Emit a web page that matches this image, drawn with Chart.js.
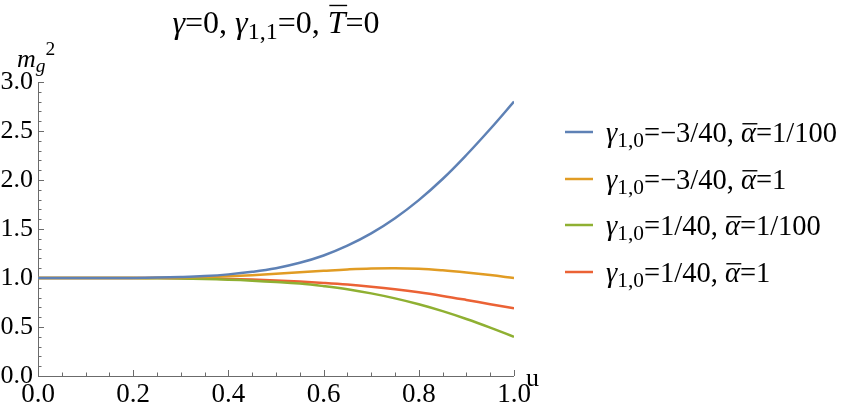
<!DOCTYPE html>
<html>
<head>
<meta charset="utf-8">
<title>m_g^2 vs u</title>
<script src="https://cdn.jsdelivr.net/npm/chart.js@4.4.1/dist/chart.umd.min.js"></script>
<style>
  html,body{margin:0;padding:0;background:#fff}
  #wrap{width:853px;height:415px;position:relative}
</style>
</head>
<body>
<div id="wrap"><canvas id="chart"></canvas></div>
<script>
// sample points along u
const uValues = [0,0.05,0.1,0.15,0.2,0.25,0.3,0.35,0.4,0.45,0.5,0.55,0.6,0.65,0.7,0.75,0.8,0.85,0.9,0.95,1.0];

const blueSeries   = [1,1,1,1,1.001,1.004,1.01,1.02,1.037,1.063,1.1,1.155,1.23,1.33,1.455,1.61,1.795,2.01,2.255,2.52,2.80];
const orangeSeries = [1,1,1,1,1,1.002,1.005,1.01,1.018,1.029,1.043,1.058,1.073,1.087,1.097,1.1,1.094,1.078,1.056,1.03,1.0];
const greenSeries  = [1,1,1,1,0.999,0.998,0.995,0.99,0.983,0.973,0.96,0.943,0.917,0.885,0.843,0.792,0.732,0.662,0.582,0.494,0.40];
const redSeries    = [1,1,1,1,1,0.999,0.997,0.994,0.99,0.984,0.975,0.964,0.95,0.933,0.911,0.885,0.854,0.817,0.776,0.733,0.69];

const xTicks = [0,0.2,0.4,0.6,0.8,1.0];
const yTicks = [0,0.5,1.0,1.5,2.0,2.5,3.0];

// rich text pieces: it = italic, sub/sup = small script, bar = overline
const titleText = [{t:'γ',it:1},{t:'=0, '},{t:'γ',it:1},{t:'1,1',sub:1},{t:'=0, '},{t:'T',it:1,bar:'cap'},{t:'=0'}];
const seriesNames = [
  [{t:'γ',it:1},{t:'1,0',sub:1},{t:'=−3/40, '},{t:'α',it:1,bar:'low'},{t:'=1/100'}],
  [{t:'γ',it:1},{t:'1,0',sub:1},{t:'=−3/40, '},{t:'α',it:1,bar:'low'},{t:'=1'}],
  [{t:'γ',it:1},{t:'1,0',sub:1},{t:'=1/40, '},{t:'α',it:1,bar:'low'},{t:'=1/100'}],
  [{t:'γ',it:1},{t:'1,0',sub:1},{t:'=1/40, '},{t:'α',it:1,bar:'low'},{t:'=1'}]
];
const yAxisLabel = [{t:'m',it:1},{t:'g',it:1,sub:1},{t:'2',sup:1}];
const xAxisLabel = [{t:'u'}];

const colors = ['#5e81b5','#e19c24','#8fb032','#eb6235'];
const seriesList = [blueSeries, orangeSeries, greenSeries, redSeries];

const SERIF = '"Liberation Serif","Times New Roman",serif';

function drawRich(ctx, segs, x, y, size, align){
  const parts = segs.map(s=>{
    const fs = (s.sub||s.sup) ? size*0.75 : size;
    const font = (s.it?'italic ':'') + fs + 'px ' + SERIF;
    ctx.font = font;
    return {s, font, w: ctx.measureText(s.t).width};
  });
  const total = parts.reduce((a,p)=>a+p.w,0);
  let cx = align==='center' ? x-total/2 : x;
  ctx.textAlign='left'; ctx.textBaseline='alphabetic'; ctx.fillStyle='#000';
  parts.forEach(p=>{
    ctx.font = p.font;
    const dy = p.s.sub ? size*0.18 : p.s.sup ? -size*0.45 : 0;
    ctx.fillText(p.s.t, cx, y+dy);
    if(p.s.bar){
      const by = y - size*(p.s.bar==='cap' ? 0.86 : 0.64);
      ctx.save(); ctx.strokeStyle='#000'; ctx.lineWidth=1.4;
      ctx.beginPath(); ctx.moveTo(cx+size*0.05, by); ctx.lineTo(cx+p.w+size*0.05, by); ctx.stroke();
      ctx.restore();
    }
    cx += p.w;
  });
}

// axes with inward ticks, Mathematica style
const axesPlugin = {
  id:'axesPlugin',
  beforeDatasetsDraw(chart){
    const {ctx, chartArea:a, scales:{x, y}} = chart;
    ctx.save();
    ctx.strokeStyle='#6b6b6b'; ctx.lineWidth=1;
    ctx.beginPath();
    ctx.moveTo(a.left+0.5, a.top); ctx.lineTo(a.left+0.5, a.bottom+0.5);
    ctx.lineTo(a.right, a.bottom+0.5);
    ctx.stroke();
    ctx.beginPath();
    for(let i=0;i<=20;i++){
      const v=i*0.05, px=Math.round(x.getPixelForValue(v))+0.5;
      const len = i%4===0 ? 6 : 3.5;
      ctx.moveTo(px, a.bottom); ctx.lineTo(px, a.bottom-len);
    }
    for(let i=0;i<=30;i++){
      const v=i*0.1, py=Math.round(y.getPixelForValue(v))+0.5;
      const len = i%5===0 ? 6 : 3.5;
      ctx.moveTo(a.left, py); ctx.lineTo(a.left+len, py);
    }
    ctx.stroke();
    ctx.restore();
  },
  afterDraw(chart){
    const {ctx} = chart;
    ctx.save();
    drawRich(ctx, titleText, 276, 33, 32, 'center');
    drawRich(ctx, yAxisLabel, 17, 67, 26, 'left');
    drawRich(ctx, xAxisLabel, 526, 386, 26, 'left');
    seriesNames.forEach((segs,i)=>{
      const cy = Math.round(132 + i*46.7);
      ctx.strokeStyle=colors[i]; ctx.lineWidth=2.5;
      ctx.beginPath(); ctx.moveTo(565, cy); ctx.lineTo(593, cy); ctx.stroke();
      drawRich(ctx, segs, 606, cy+10, 28.5, 'left');
    });
    ctx.restore();
  }
};

const datasets = seriesList.map((vals,i)=>({
  data: uValues.map((u,j)=>({x:u, y:vals[j]})),
  borderColor: colors[i],
  borderWidth: 2.5,
  pointRadius: 0,
  fill: false,
  tension: 0.4
}));

new Chart(document.getElementById('chart'), {
  type:'line',
  data:{datasets},
  options:{
    responsive:true,
    maintainAspectRatio:false,
    animation:false,
    layout:{padding:{left:0, top:82, right:339, bottom:0}},
    plugins:{legend:{display:false}, tooltip:{enabled:false}, title:{display:false}},
    scales:{
      x:{
        type:'linear', min:0, max:1,
        grid:{display:false, drawTicks:false}, border:{display:false},
        afterBuildTicks(s){ s.ticks = xTicks.map(v=>({value:v})); },
        afterFit(s){ s.height = 39; },
        ticks:{color:'#000', padding:3, maxRotation:0, autoSkip:false,
          font:{family:SERIF, size:27}, callback:v=>v.toFixed(1)}
      },
      y:{
        min:0, max:3,
        grid:{display:false, drawTicks:false}, border:{display:false},
        afterBuildTicks(s){ s.ticks = yTicks.map(v=>({value:v})); },
        afterFit(s){ s.width = 38; },
        ticks:{color:'#000', padding:5, autoSkip:false,
          font:{family:SERIF, size:26}, callback:v=>v.toFixed(1)}
      }
    }
  },
  plugins:[axesPlugin]
});
</script>
</body>
</html>
